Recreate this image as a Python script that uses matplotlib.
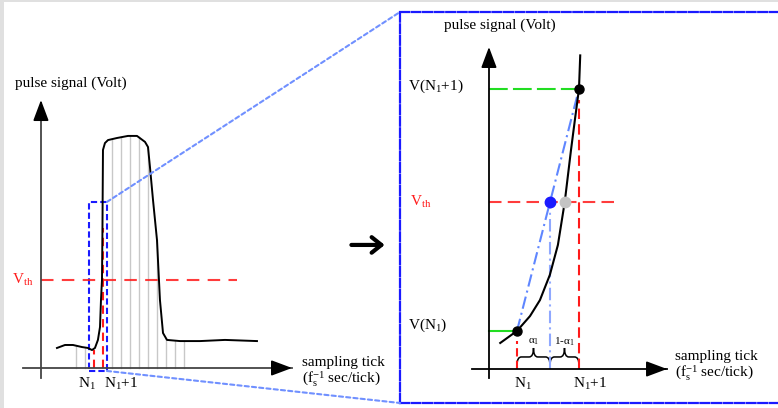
import numpy as np
import matplotlib
matplotlib.use("Agg")
import matplotlib.pyplot as plt
from matplotlib.patches import Rectangle, ConnectionPatch, PathPatch
from matplotlib.path import Path

plt.rcParams['font.family'] = ['Liberation Serif', 'DejaVu Serif']
plt.rcParams['mathtext.fontset'] = 'custom'
plt.rcParams['mathtext.rm'] = 'Liberation Serif'
plt.rcParams['mathtext.it'] = 'Liberation Serif'
plt.rcParams['mathtext.default'] = 'regular'

# whole pulse: time in sampling ticks counted from N1, voltage normalised to the plateau
pulse_t = [-4.11, -3.22, -2.33, -1.33, -0.67, -0.22, 0.11, 0.44, 0.67, 0.78, 0.89, 0.94,
           1.0, 1.22, 1.56, 2.56, 3.78, 4.78, 5.67, 6.0, 6.22, 6.56, 7.0, 7.33, 7.67,
           8.11, 9.56, 11.78, 14.56, 18.11]
pulse_v = [0.087, 0.10, 0.10, 0.091, 0.087, 0.078, 0.087, 0.122, 0.178, 0.296, 0.383, 0.587,
           0.948, 0.978, 0.991, 1.0, 1.009, 1.009, 0.983, 0.961, 0.874, 0.730, 0.557, 0.296, 0.152,
           0.122, 0.117, 0.117, 0.122, 0.117]
sample_ticks = [-2, -1, 2, 3, 4, 5, 6, 7, 8, 9, 10]
edge_ticks = [0, 1]
edge_tops = [0.08, 0.61]
v_th = 0.383

# rising edge between N1 and N1+1
edge_t = [-0.27, 0.0, 0.21, 0.37, 0.53, 0.66, 0.77, 0.87, 0.94, 1.0, 1.02]
edge_v = [0.093, 0.136, 0.189, 0.246, 0.336, 0.443, 0.596, 0.78, 0.90, 1.0, 1.12]
v_n1 = 0.136
v_n1p1 = 1.0
v_th_zoom = 0.596
t_true = 0.774
alpha = (v_th_zoom - v_n1) / (v_n1p1 - v_n1)

RED = '#ff1a1a'
BLUE = '#1a1aff'
LBLUE = '#5f86ff'
GREEN = '#22dd22'
FS = 11

fig = plt.figure(figsize=(7.78, 4.08), dpi=100)
fig.patch.set_facecolor('white')
fig.add_artist(Rectangle((0, 0), 4 / 778, 1, transform=fig.transFigure, color='#e0e0e0', lw=0))
fig.add_artist(Rectangle((0, 1 - 2 / 408), 1, 2 / 408, transform=fig.transFigure, color='#e0e0e0', lw=0))

arrow = dict(arrowstyle='-|>,head_length=0.8,head_width=0.3', color='black', lw=1.2,
             shrinkA=0, shrinkB=0, mutation_scale=16)


def axis_arrows(ax, x0, y0, xmin, xmax, ymin, ymax, color):
    ax.plot([x0, x0], [ymin, ymax * 0.97], color=color, lw=1.3)
    ax.annotate('', xy=(x0, ymax), xytext=(x0, ymax - 0.05 * (ymax - ymin)),
                arrowprops=arrow)
    ax.plot([xmin, xmax], [y0, y0], color=color, lw=1.3)
    ax.annotate('', xy=(xmax, y0), xytext=(xmax - 0.02 * (xmax - xmin), y0),
                arrowprops=arrow)


def brace(ax, x0, x1, y, h_down, h_up, r):
    xm = (x0 + x1) / 2
    verts = [(x0, y - h_down), (x0, y), (x0 + r, y), (xm - r, y), (xm, y), (xm, y + h_up),
             (xm, y), (xm + r, y), (x1 - r, y), (x1, y), (x1, y - h_down)]
    codes = [Path.MOVETO, Path.CURVE3, Path.CURVE3, Path.LINETO, Path.CURVE3, Path.CURVE3,
             Path.CURVE3, Path.CURVE3, Path.LINETO, Path.CURVE3, Path.CURVE3]
    ax.add_patch(PathPatch(Path(verts, codes), fill=False, color='black', lw=1.1))


# ---- left panel: full pulse ----
ax1 = fig.add_axes([0, 0, 400 / 778, 1])
ax1.set_xlim(-10.44, 34.0)
ax1.set_ylim(-0.174, 1.6)
ax1.axis('off')

for t in sample_ticks:
    ax1.plot([t, t], [0, np.interp(t, pulse_t, pulse_v)], color='#c8c8c8', lw=1)
for t, top in zip(edge_ticks, edge_tops):
    ax1.plot([t, t], [0, top], color=RED, lw=1.5, dashes=(4, 2.5))

ax1.plot([-5.89, 15.9], [v_th, v_th], color=RED, lw=1.5, dashes=(6, 4), alpha=0.85)
ax1.plot(pulse_t, pulse_v, color='black', lw=1.4)
axis_arrows(ax1, -5.89, 0, -7.89, 22.0, -0.043, 1.165, '#444444')

ax1.add_patch(Rectangle((-0.56, -0.013), 2.0, 0.735, fill=False, edgecolor=BLUE,
                        lw=1.5, linestyle=(0, (3, 1.5))))

ax1.text(-2.56, 1.239, 'pulse signal (Volt)', fontsize=FS, ha='center', va='center')
ax1.text(-9.1, v_th, r'V$_{th}$', fontsize=FS, color=RED, ha='left', va='center')
ax1.text(-0.78, -0.068, r'N$_1$', fontsize=FS, ha='center', va='center')
ax1.text(3.0, -0.068, r'N$_1$+1', fontsize=FS, ha='center', va='center')
ax1.text(23.1, 0.026, 'sampling tick', fontsize=FS, ha='left', va='center')
ax1.text(23.1, -0.046, r'(f$_s^{-1}$ sec/tick)', fontsize=FS, ha='left', va='center')
ax1.annotate('', xy=(32.3, 0.535), xytext=(28.6, 0.535),
             arrowprops=dict(arrowstyle='->,head_length=0.5,head_width=0.4', color='black',
                             lw=3.0, shrinkA=0, shrinkB=0, mutation_scale=14))

# ---- right panel: zoom on the threshold crossing ----
ax2 = fig.add_axes([400 / 778, 5 / 408, 384 / 778, 391 / 408])
ax2.set_xlim(-1.887, 4.307)
ax2.set_ylim(-0.1214, 1.275)
ax2.set_xticks([])
ax2.set_yticks([])
for s in ax2.spines.values():
    s.set_color(BLUE)
    s.set_linewidth(1.6)
    s.set_linestyle((0, (4, 1.2)))

ax2.plot([-0.452, 1.0], [v_n1p1, v_n1p1], color=GREEN, lw=1.5, dashes=(9, 2.5))
ax2.plot([-0.452, 0.0], [v_n1, v_n1], color=GREEN, lw=1.5)
ax2.plot([-0.452, 1.63], [v_th_zoom, v_th_zoom], color=RED, lw=1.5, dashes=(6, 3), alpha=0.85)
ax2.plot([1.0, 1.0], [0, 0.96], color=RED, lw=1.5, dashes=(5, 2.5))
ax2.plot([0.0, 0.0], [0, 0.1], color=RED, lw=1.5, dashes=(4, 2))
ax2.plot([alpha, alpha], [0, v_th_zoom], color='#8fa8ff', lw=1.5, dashes=(6, 2, 1, 2))
ax2.plot([0, 1], [v_n1, v_n1p1], color=LBLUE, lw=1.5, dashes=(6, 2, 1, 2))
ax2.plot(edge_t, edge_v, color='black', lw=1.5)
axis_arrows(ax2, -0.452, 0, -0.726, 2.42, -0.032, 1.15, 'black')

ax2.plot([0, 1], [v_n1, v_n1p1], 'o', color='black', ms=6.5, zorder=5)
ax2.plot([t_true], [v_th_zoom], 'o', color='#c4c4c4', ms=7.5, zorder=5)
ax2.plot([alpha], [v_th_zoom], 'o', color=BLUE, ms=7.5, zorder=6)

brace(ax2, 0, alpha, 0.043, 0.03, 0.032, 0.07)
brace(ax2, alpha, 1, 0.043, 0.03, 0.032, 0.07)
ax2.text(alpha / 2, 0.098, r'α$_1$', fontsize=8, ha='center', va='center')
ax2.text((alpha + 1) / 2, 0.098, r'1-α$_1$', fontsize=8, ha='center', va='center')

ax2.text(-0.27, 1.229, 'pulse signal (Volt)', fontsize=FS, ha='center', va='center')
ax2.text(-1.76, 1.01, r'V(N$_1$+1)', fontsize=FS, ha='left', va='center')
ax2.text(-1.73, v_th_zoom, r'V$_{th}$', fontsize=FS, color=RED, ha='left', va='center')
ax2.text(-1.76, 0.157, r'V(N$_1$)', fontsize=FS, ha='left', va='center')
ax2.text(0.09, -0.052, r'N$_1$', fontsize=FS, ha='center', va='center')
ax2.text(1.18, -0.052, r'N$_1$+1', fontsize=FS, ha='center', va='center')
ax2.text(2.55, 0.045, 'sampling tick', fontsize=FS, ha='left', va='center')
ax2.text(2.55, -0.014, r'(f$_s^{-1}$ sec/tick)', fontsize=FS, ha='left', va='center')

# dotted guides from the marked window to the zoomed panel
for ya, yb in [(0.722, 1), (-0.013, 0)]:
    con = ConnectionPatch(xyA=(1.44, ya), coordsA=ax1.transData,
                          xyB=(0, yb), coordsB=ax2.transAxes,
                          color='#7090ff', lw=1.5, linestyle=(0, (2, 1.5)))
    fig.add_artist(con)

fig.savefig('out.png', dpi=100)
